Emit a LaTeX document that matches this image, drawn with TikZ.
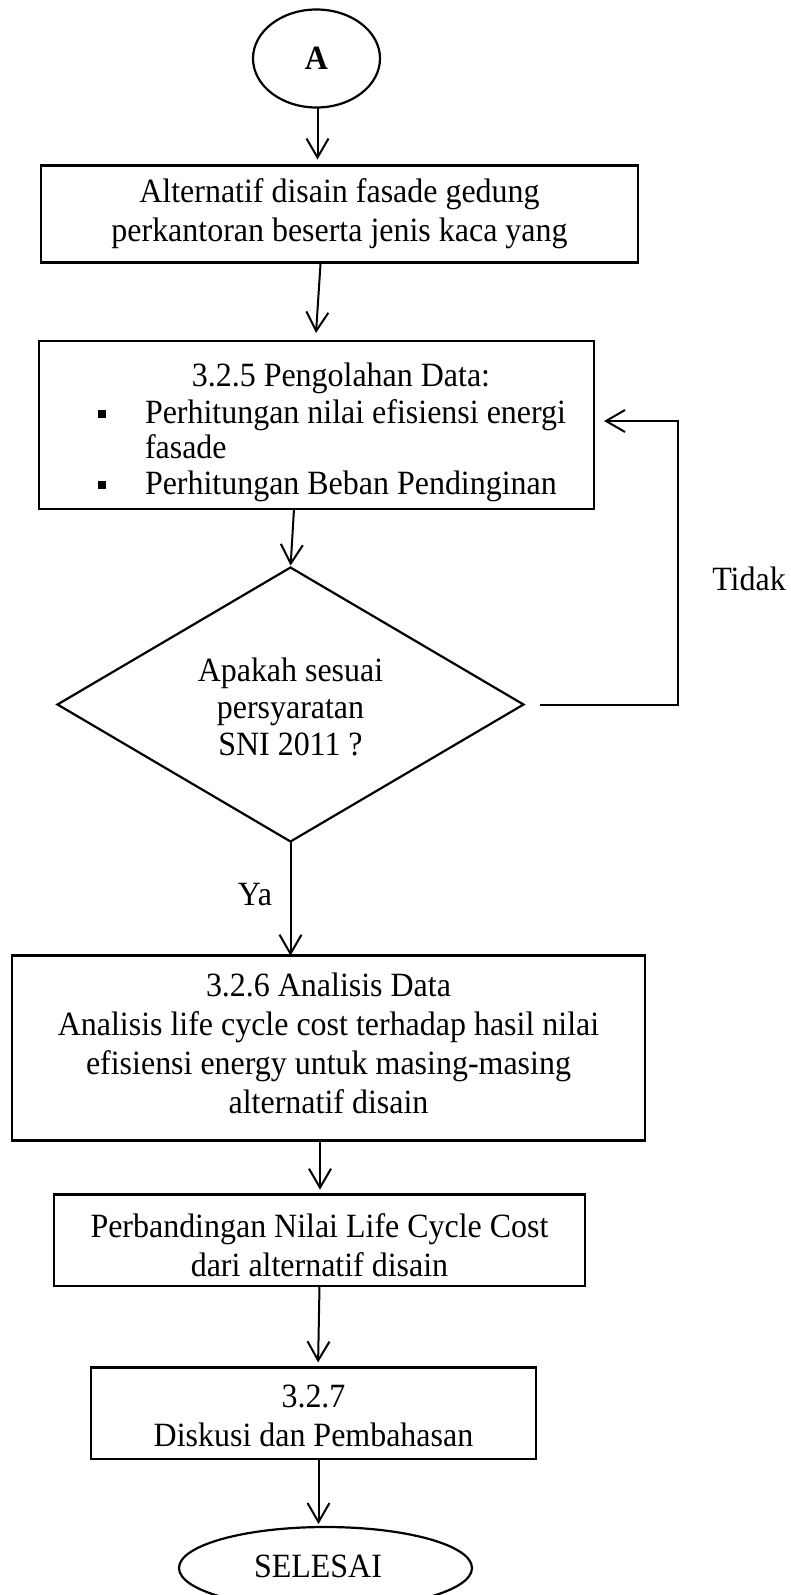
\documentclass[tikz,border=0pt]{standalone}
\usepackage{fontspec}
\setmainfont[Ligatures=NoCommon,FakeStretch=0.94]{Liberation Serif}
\usetikzlibrary{shapes.geometric,arrows.meta,calc}
\begin{document}
\begin{tikzpicture}[x=1pt,y=-1pt,
  every node/.style={font=\fontsize{34}{39}\selectfont, inner sep=0pt, outer sep=0pt},
  box/.style={draw, line width=2.6pt, rectangle, align=center},
  term/.style={draw, line width=2.2pt, ellipse},
  decision/.style={draw, line width=2.2pt, diamond},
  bulletsq/.style={fill, rectangle, minimum size=8pt},
  arr/.style={line width=2pt, -{Straight Barb[length=19pt,width=22pt,line width=2pt]}}]
\useasboundingbox (0,0) rectangle (791,1595);

% start terminal
\node[term, minimum width=127pt, minimum height=98pt, font=\bfseries\fontsize{34}{39}\selectfont] (A) at (316.5,58.5) {A};

% box 1
\node[box, minimum width=597pt, minimum height=97pt] (box1) at (339.5,214)
  {Alternatif disain fasade gedung\\perkantoran beserta jenis kaca yang};

% box 2
\node[box, minimum width=555pt, minimum height=168pt] (box2) at (316.5,425) {};
\node[anchor=base] (t25) at (341,386) {3.2.5 Pengolahan Data:};
\node[bulletsq] (s1) at (101.5,413.5) {};
\node[anchor=base west] (b1) at (145,423.5) {Perhitungan nilai efisiensi energi};
\node[anchor=base west] (b1b) at (145,458.5) {fasade};
\node[bulletsq] (s2) at (101.5,484.5) {};
\node[anchor=base west] (b2) at (145,494.5) {Perhitungan Beban Pendinginan};

% decision
\node[decision, minimum width=466pt, minimum height=274pt] (dia) at (290.5,704.5) {};
\node[align=center, font=\fontsize{34}{37}\selectfont] (dtext) at (290.5,707) {Apakah sesuai\\persyaratan\\SNI 2011 ?};

% box 3
\node[box, minimum width=633pt, minimum height=185pt] (box3) at (328.5,1048.2) {};
\node[align=center] (t3) at (328.5,1043) {3.2.6 Analisis Data\\Analisis life cycle cost terhadap hasil nilai\\efisiensi energy untuk masing-masing\\alternatif disain};

% box 4
\node[box, minimum width=531pt, minimum height=91.5pt] (box4) at (319.5,1240.4) {};
\node[align=center] (t4) at (319.5,1245.5) {Perbandingan Nilai Life Cycle Cost\\dari alternatif disain};

% box 5
\node[box, minimum width=445pt, minimum height=91.6pt] (box5) at (313.5,1413.2) {};
\node[align=center] (t5) at (313.5,1415.5) {3.2.7\\Diskusi dan Pembahasan};

% end terminal
\node[term, minimum width=293pt, minimum height=82pt] (endn) at (325.5,1568) {};
\node (tend) at (318,1566) {SELESAI};

% labels
\node (tidak) at (749,579) {Tidak};
\node (ya) at (255,895) {Ya};

% connectors
\draw[arr, shorten >=6pt] ([xshift=1pt]A.south) -- ([xshift=1pt]A.south |- box1.north);
\draw[arr, shorten >=8pt] ([xshift=-18.9pt]box1.south) -- ([xshift=-1pt]box2.north);
\draw[arr, shorten >=2pt] ([xshift=-22.5pt]box2.south) -- (dia.north);
\coordinate (lc) at (678,421);
\coordinate (lt) at ($(box2.east |- lc)+(10,0)$);
\draw[arr] ([xshift=16pt]dia.east) -| (lc) -- (lt);
\draw[arr] (dia.south) -- (dia.south |- box3.north);
\draw[arr, shorten >=5pt] ([xshift=-8.5pt]box3.south) -- ([xshift=-8.5pt]box3.south |- box4.north);
\draw[arr, shorten >=5pt] (box4.south) -- ([xshift=4.5pt]box5.north);
\draw[arr, shorten >=3pt] ([xshift=5pt]box5.south) -- ([xshift=5pt]box5.south |- endn.north);
\end{tikzpicture}
\end{document}
